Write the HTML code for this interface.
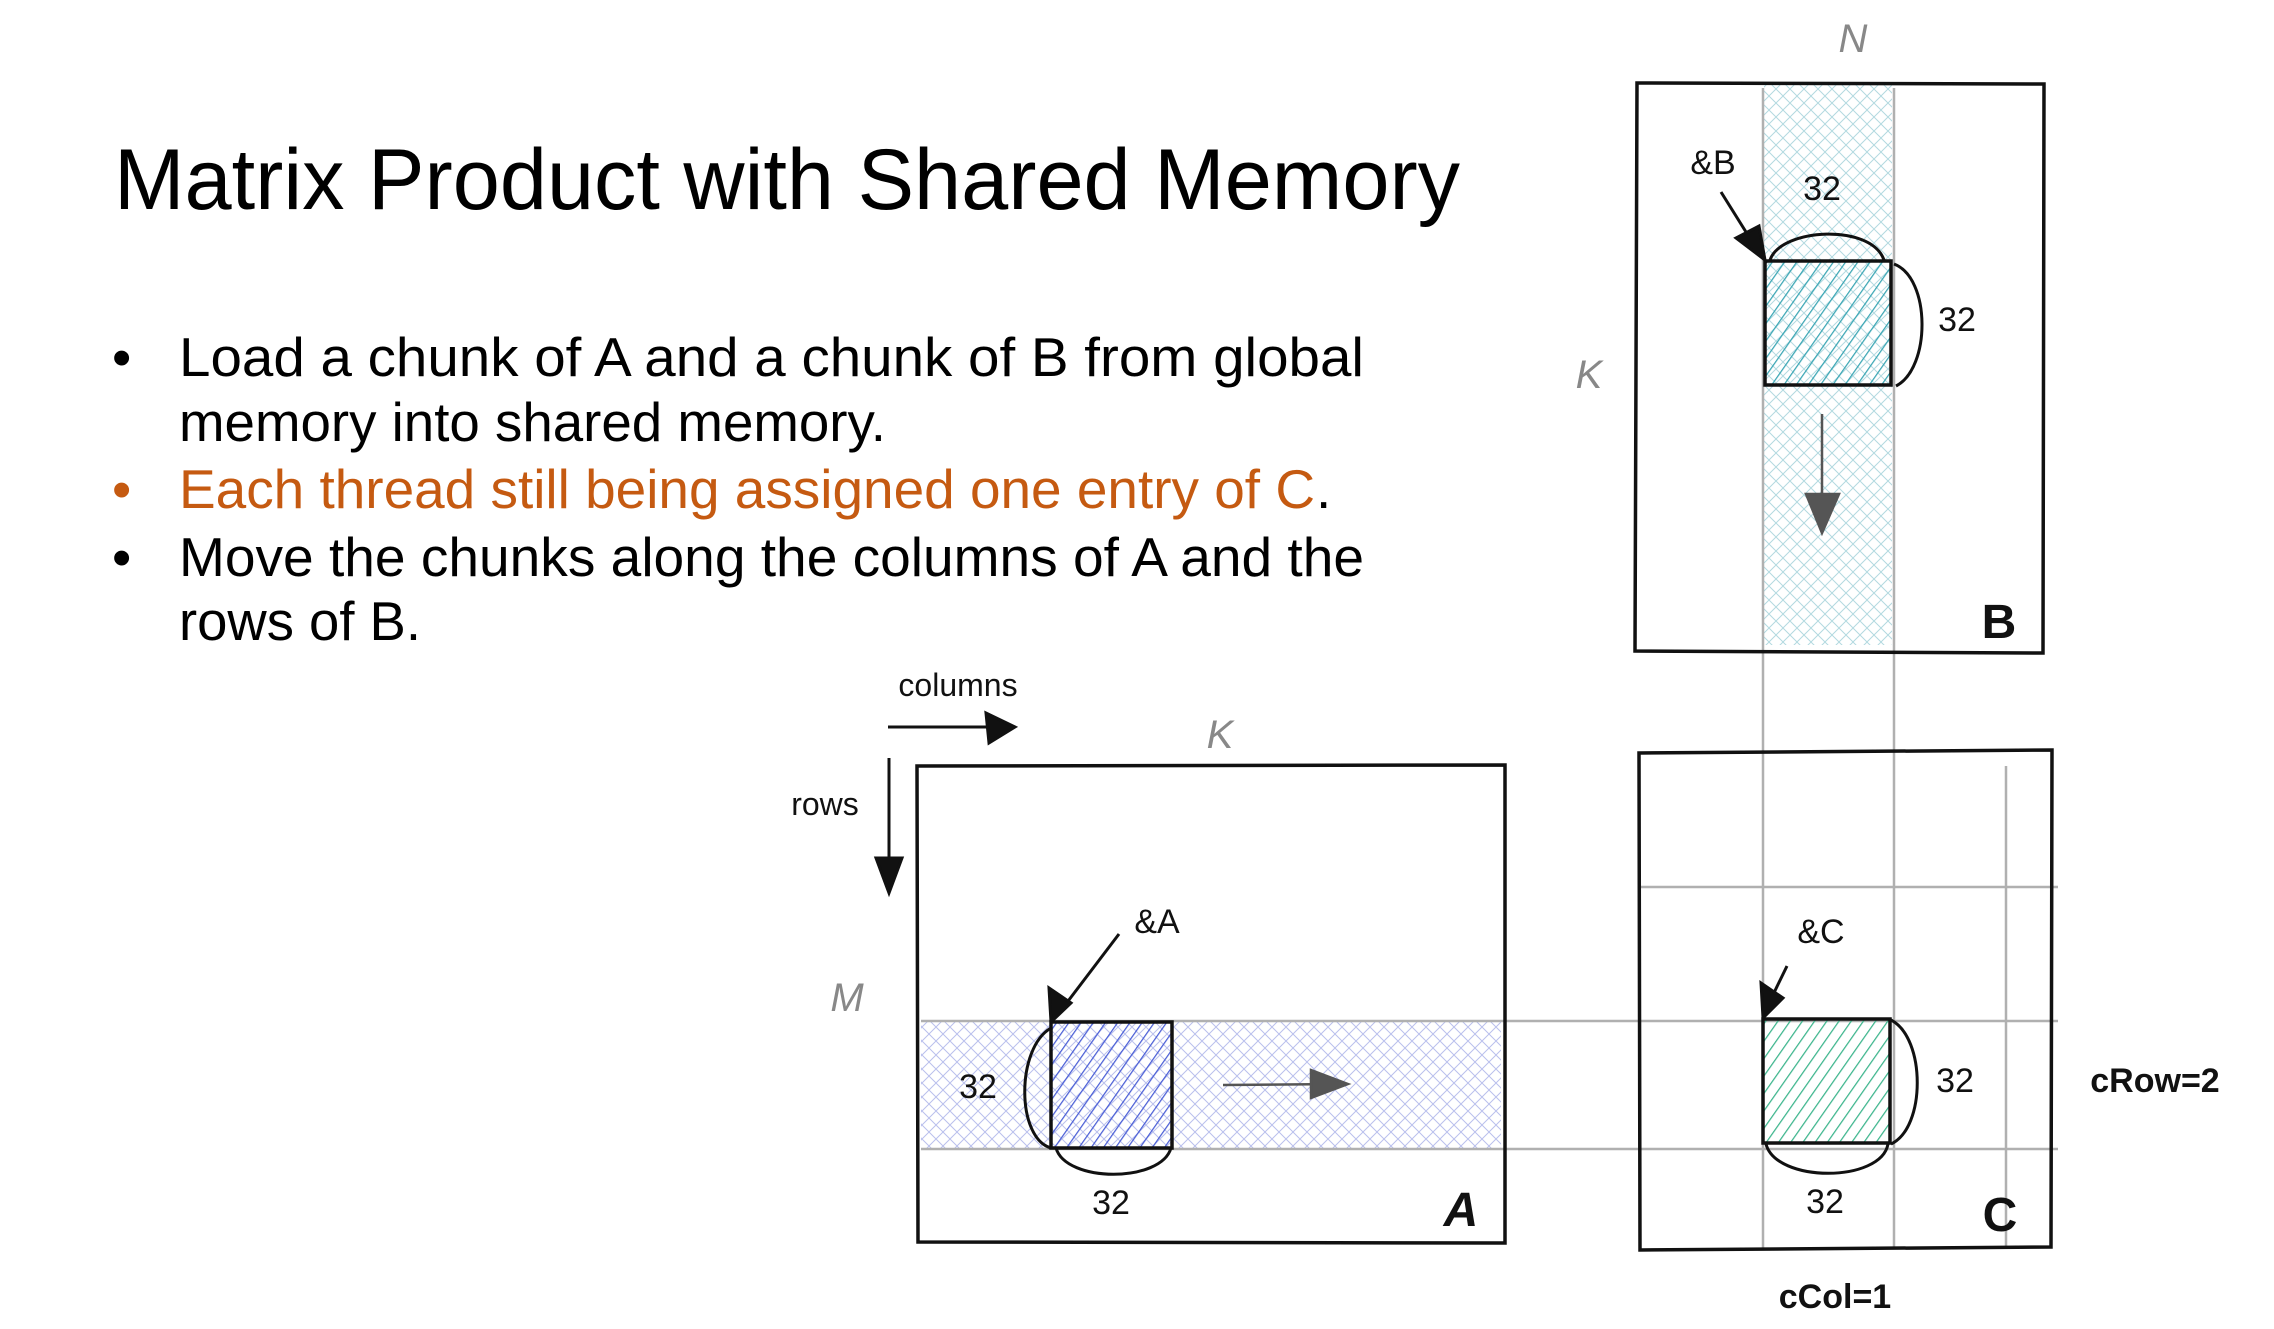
<!DOCTYPE html>
<html><head><meta charset="utf-8"><style>
html,body{margin:0;padding:0;background:#fff;}
svg{display:block;}
text{font-family:"Liberation Sans",Arial,sans-serif;}
.h{font-family:"DejaVu Sans","Liberation Sans",sans-serif;}
</style></head><body>
<svg width="2274" height="1329" viewBox="0 0 2274 1329" xmlns="http://www.w3.org/2000/svg">
<defs>
<pattern id="xb" width="14" height="14" patternUnits="userSpaceOnUse">
<path d="M0 14L14 0M0 0L14 14" stroke="#9fd0d8" stroke-width="1"/></pattern>
<pattern id="xa" width="14" height="14" patternUnits="userSpaceOnUse">
<path d="M0 14L14 0M0 0L14 14" stroke="#a8b0e8" stroke-width="1"/></pattern>
<pattern id="db" width="10" height="10" patternUnits="userSpaceOnUse" patternTransform="rotate(35)">
<path d="M0 0V10" stroke="#3aa6b4" stroke-width="2.5"/></pattern>
<pattern id="da" width="10" height="10" patternUnits="userSpaceOnUse" patternTransform="rotate(35)">
<path d="M0 0V10" stroke="#4a5ed6" stroke-width="2.5"/></pattern>
<pattern id="dc" width="10" height="10" patternUnits="userSpaceOnUse" patternTransform="rotate(35)">
<path d="M0 0V10" stroke="#3cb58c" stroke-width="2.5"/></pattern>
</defs>

<!-- Title and bullets -->
<text x="114" y="209" font-size="86" textLength="1346" lengthAdjust="spacingAndGlyphs">Matrix Product with Shared Memory</text>
<g font-size="55">
<text x="112" y="376">•</text>
<text x="179" y="376" textLength="1185" lengthAdjust="spacingAndGlyphs">Load a chunk of A and a chunk of B from global</text>
<text x="179" y="441" textLength="707" lengthAdjust="spacingAndGlyphs">memory into shared memory.</text>
<text x="112" y="508" fill="#C55A11">•</text>
<text x="179" y="508" fill="#C55A11" textLength="1136" lengthAdjust="spacingAndGlyphs">Each thread still being assigned one entry of C</text>
<text x="1316" y="508">.</text>
<text x="112" y="576">•</text>
<text x="179" y="576" textLength="1185" lengthAdjust="spacingAndGlyphs">Move the chunks along the columns of A and the</text>
<text x="179" y="640" textLength="242" lengthAdjust="spacingAndGlyphs">rows of B.</text>
</g>

<g transform="translate(-9,-2)">
<!-- B strip -->
<rect x="1773" y="87" width="128" height="560" fill="url(#xb)" opacity="0.8"/>
<!-- A strip -->
<rect x="930" y="1024" width="580" height="126" fill="url(#xa)" opacity="0.8"/>

<!-- grid lines -->
<g stroke="#b0b0b0" stroke-width="2.5" fill="none">
<line x1="1772" y1="90" x2="1772" y2="1250"/>
<line x1="1903" y1="90" x2="1903" y2="1250"/>
<line x1="930" y1="1023" x2="2067" y2="1023"/>
<line x1="930" y1="1151" x2="2067" y2="1151"/>
<line x1="1648" y1="889" x2="2067" y2="889"/>
<line x1="2015" y1="768" x2="2015" y2="1250"/>
</g>

<!-- matrix boxes -->
<g stroke="#111" stroke-width="3.5" fill="none">
<path d="M1646 85 L2053 86 L2052 655 L1644 653 Z"/>
<path d="M926 768 L1514 767 L1514 1245 L927 1244 Z"/>
<path d="M1648 755 L2061 752 L2060 1249 L1649 1252 Z"/>
</g>

<!-- tiles -->
<rect x="1774" y="263" width="126" height="124" fill="url(#db)" stroke="#111" stroke-width="3.5"/>
<rect x="1060" y="1024" width="121" height="126" fill="url(#da)" stroke="#111" stroke-width="3.5"/>
<rect x="1772" y="1021" width="127" height="124" fill="url(#dc)" stroke="#111" stroke-width="3.5"/>

<!-- braces -->
<g stroke="#111" stroke-width="3" fill="none">
<path d="M1779 262 C1790 230 1880 225 1893 262"/>
<path d="M1903 266 C1940 280 1940 370 1905 388"/>
<path d="M1060 1030 C1025 1050 1025 1140 1060 1150"/>
<path d="M1065 1150 C1075 1185 1170 1185 1180 1150"/>
<path d="M1900 1022 C1935 1040 1935 1130 1900 1146"/>
<path d="M1775 1146 C1785 1185 1890 1185 1897 1146"/>
</g>

<!-- pointer arrows -->
<g stroke="#111" stroke-width="3" fill="#111">
<line x1="1730" y1="194" x2="1765" y2="250"/>
<path d="M1774 262 L1745 240 L1768 228 Z"/>
<line x1="1128" y1="936" x2="1068" y2="1015"/>
<path d="M1060 1024 L1058 990 L1080 1005 Z"/>
<line x1="1796" y1="968" x2="1778" y2="1005"/>
<path d="M1772 1020 L1770 985 L1792 1000 Z"/>
<line x1="897" y1="729" x2="1010" y2="729"/>
<path d="M1024 729 L995 715 L998 745 Z"/>
<line x1="898" y1="760" x2="898" y2="880"/>
<path d="M898 895 L885 860 L911 860 Z"/>
</g>
<g stroke="#555" stroke-width="2.5" fill="#555">
<line x1="1831" y1="416" x2="1831" y2="530"/>
<path d="M1831 535 L1815 496 L1848 496 Z"/>
<line x1="1232" y1="1087" x2="1350" y2="1086"/>
<path d="M1357 1086 L1320 1072 L1320 1100 Z"/>
</g>

<!-- labels -->
<g class="h" font-size="34" fill="#111">
<text x="1722" y="176" text-anchor="middle">&amp;B</text>
<text x="1831" y="202" text-anchor="middle">32</text>
<text x="1966" y="333" text-anchor="middle">32</text>
<text x="1166" y="935" text-anchor="middle">&amp;A</text>
<text x="987" y="1100" text-anchor="middle">32</text>
<text x="1120" y="1216" text-anchor="middle">32</text>
<text x="1830" y="945" text-anchor="middle">&amp;C</text>
<text x="1964" y="1094" text-anchor="middle">32</text>
<text x="1834" y="1215" text-anchor="middle">32</text>
<text x="2164" y="1094" text-anchor="middle" font-weight="bold" font-family="Liberation Mono,monospace">cRow=2</text>
<text x="1844" y="1310" text-anchor="middle" font-weight="bold" font-family="Liberation Mono,monospace">cCol=1</text>
<text x="967" y="698" text-anchor="middle" font-size="32">columns</text>
<text x="834" y="817" text-anchor="middle" font-size="32">rows</text>
</g>
<g class="h" font-size="40" fill="#888" font-style="italic">
<text x="1862" y="54" text-anchor="middle">N</text>
<text x="1598" y="390" text-anchor="middle">K</text>
<text x="1229" y="750" text-anchor="middle">K</text>
<text x="856" y="1013" text-anchor="middle">M</text>
</g>
<g class="h" font-size="48" fill="#111" font-weight="bold">
<text x="2008" y="640" text-anchor="middle">B</text>
<text x="1470" y="1228" text-anchor="middle" font-style="italic">A</text>
<text x="2009" y="1233" text-anchor="middle">C</text>
</g>
</g>
</svg>
</body></html>
